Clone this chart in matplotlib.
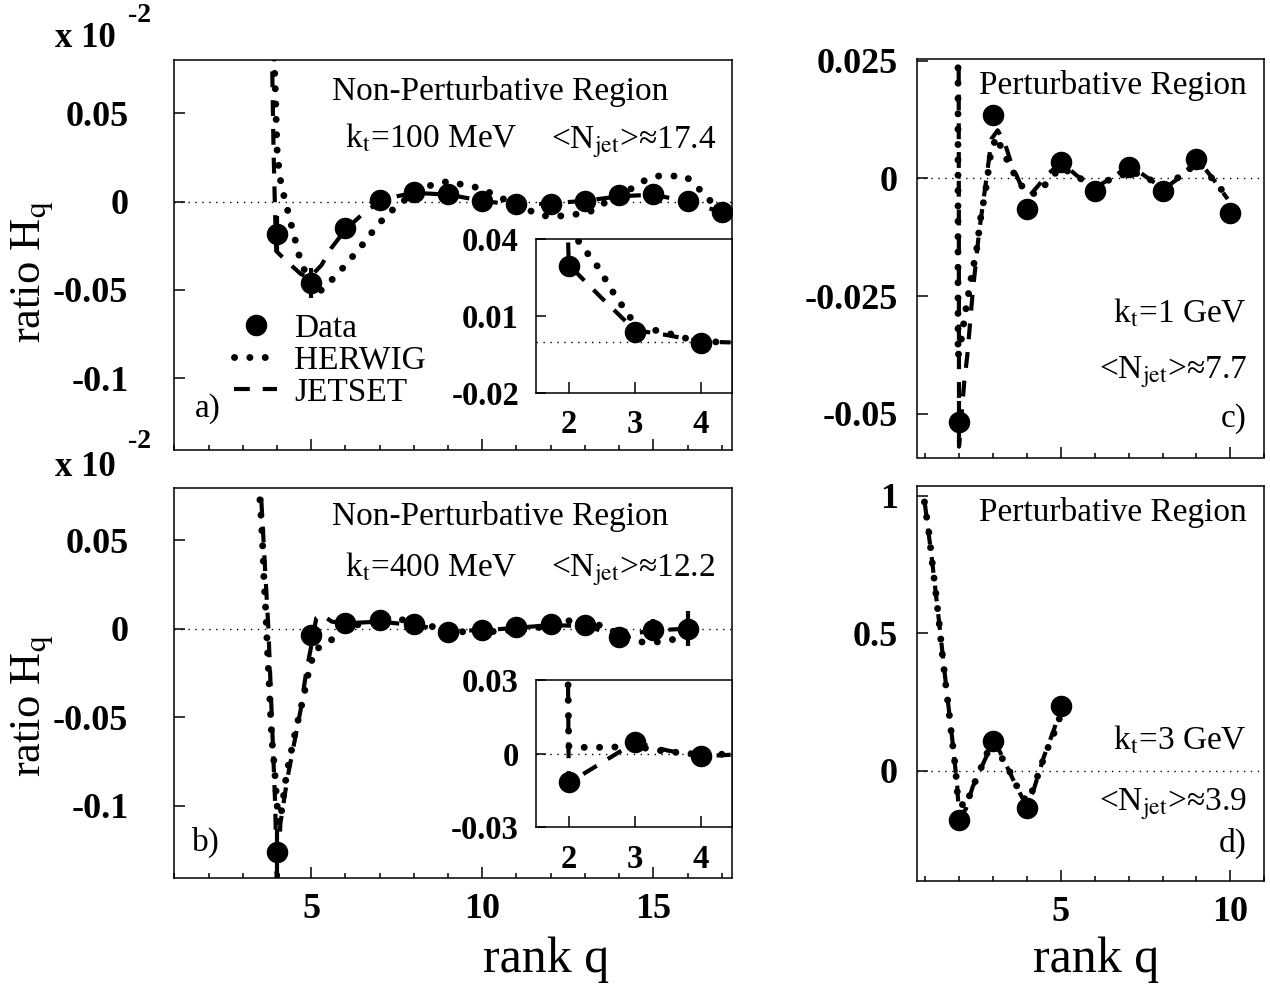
import matplotlib
matplotlib.use('Agg')
import matplotlib.pyplot as plt
from matplotlib.lines import Line2D
import numpy as np

plt.rcParams['font.family'] = ['Liberation Serif', 'DejaVu Serif']
plt.rcParams['mathtext.fontset'] = 'stix'

# ---------------- panel a) kt = 100 MeV (values in units of 10^-2)
q_a = [4, 5, 6, 7, 8, 9, 10, 11, 12, 13, 14, 15, 16, 17]
data_a = [-0.0184, -0.0463, -0.0147, 0.0008, 0.0055, 0.0041, 0.0004,
          -0.0015, -0.0011, 0.0004, 0.0036, 0.0041, 0.0004, -0.0058]
err_a = [0.010, 0.0085, 0.004, 0.002, 0.002, 0.002, 0.002,
         0.002, 0.002, 0.002, 0.002, 0.002, 0.003, 0.0056]
herwig_q_a = [3.90, 3.96, 3.98, 4.01, 4.12, 4.23, 4.33, 4.44, 4.54, 4.65,
              4.79, 5.02, 5.23, 5.53, 5.82, 6.10, 6.40, 6.66, 6.93, 7.23,
              7.55, 8.20, 8.63, 9.05, 9.48, 9.90, 10.27, 10.64, 11.07, 11.49,
              11.86, 12.34, 12.76, 13.19, 13.56, 13.93, 14.35, 14.72, 15.10,
              15.52, 15.94, 16.26, 16.53, 17.00]
herwig_a = [0.090, 0.0596, 0.0436, 0.0267, 0.0098, 0.0013, -0.0062, -0.0147,
            -0.0222, -0.0306, -0.0382, -0.0476, -0.0513, -0.0457, -0.0400,
            -0.0335, -0.0269, -0.0203, -0.0137, -0.0071, -0.0019, 0.0079,
            0.0098, 0.0117, 0.0092, 0.0079, 0.0047, 0.0013, -0.0006, -0.0062,
            -0.0081, -0.0081, -0.0071, -0.0053, -0.0009, 0.0041, 0.0073,
            0.0117, 0.0145, 0.0145, 0.0145, 0.0088, 0.0032, -0.0062]
jetset_q_a = [3.85, 3.90, 3.95, 3.98, 4.30, 4.70, 4.95, 5.30, 5.60, 6.00,
              6.50, 7.00, 7.50, 8.00, 9.00, 10.0, 11.0, 12.0, 13.0, 14.0,
              15.0, 16.0, 17.0]
jetset_a = [0.090, 0.030, -0.010, -0.028, -0.034, -0.041, -0.043, -0.036,
            -0.026, -0.016, -0.007, 0.000, 0.003, 0.005, 0.004, 0.0005,
            -0.002, -0.001, 0.0005, 0.003, 0.004, 0.000, -0.006]

# inset of a) (true units)
q_ia = [2, 3, 4]
data_ia = [0.0296, 0.0036, -0.0005]
herwig_q_ia = [1.98, 2.05, 2.19, 2.33, 2.47, 2.58, 2.69, 2.81, 2.94, 3.03,
               3.15, 3.32, 3.54, 3.76, 4.00, 4.20, 4.45]
herwig_ia = [0.050, 0.042, 0.038, 0.0328, 0.0283, 0.0231, 0.0185, 0.014,
             0.0091, 0.0060, 0.0047, 0.0044, 0.0030, 0.0014, 0.0, -0.0001,
             -0.0002]
jetset_q_ia = [1.98, 2.00, 2.50, 3.00, 3.50, 4.00, 4.45]
jetset_ia = [0.050, 0.030, 0.017, 0.0045, 0.0025, 0.0, -0.0003]

# ---------------- panel b) kt = 400 MeV (values in units of 10^-2)
q_b = [4, 5, 6, 7, 8, 9, 10, 11, 12, 13, 14, 15, 16]
data_b = [-0.126, -0.0038, 0.0034, 0.0047, 0.0028, -0.0019, -0.0006,
          0.0009, 0.0028, 0.0019, -0.0047, -0.0006, 0.0]
err_b = [0.013, 0.004, 0.002, 0.002, 0.002, 0.002, 0.002,
         0.002, 0.002, 0.002, 0.003, 0.006, 0.010]
herwig_q_b = [3.45, 3.48, 3.54, 3.59, 3.62, 3.67, 3.73, 3.77, 3.81, 3.85,
              3.93, 3.99, 4.05, 4.12, 4.28, 4.54, 4.76, 4.92, 5.10, 5.45,
              5.76, 6.00, 6.50, 7.00, 7.40, 8.00, 8.60, 9.50, 10.5, 11.5,
              12.6, 13.45, 14.0, 14.67, 15.1, 15.5, 15.84]
herwig_b = [0.090, 0.079, 0.062, 0.044, 0.028, 0.011, -0.015, -0.030,
            -0.047, -0.062, -0.079, -0.096, -0.110, -0.105, -0.082, -0.058,
            -0.040, -0.025, -0.012, -0.0085, -0.0038, 0.0, 0.003, 0.0045,
            0.0066, 0.003, 0.001, -0.002, -0.0015, 0.0, 0.0047, 0.0019,
            -0.003, -0.0075, -0.0075, -0.0066, -0.004]
jetset_q_b = [3.50, 3.55, 3.75, 3.95, 4.00, 4.10, 4.30, 4.50, 4.70, 4.85,
              5.00, 5.15, 5.30, 5.60, 6.00, 7.00, 8.00, 9.00, 10.0, 11.0,
              12.0, 13.0, 14.0, 15.0, 16.0]
jetset_b = [0.090, 0.070, 0.000, -0.100, -0.150, -0.110, -0.085, -0.065,
            -0.045, -0.025, -0.010, 0.006, 0.008, 0.004, 0.003, 0.004,
            0.002, -0.001, -0.001, 0.0005, 0.002, 0.0015, -0.004, -0.001,
            0.0]

# inset of b) (true units)
q_ib = [2, 3, 4]
data_ib = [-0.0118, 0.0045, -0.0012]
herwig_q_ib = [1.99, 2.00, 2.19, 2.50, 2.80, 3.00, 3.30, 3.50, 3.80, 4.00,
               4.20, 4.45]
herwig_ib = [0.028, 0.003, 0.0025, 0.0025, 0.0027, 0.003, 0.0015, 0.0008,
             0.0, -0.0003, -0.0003, -0.0003]
jetset_q_ib = [1.99, 2.00, 3.00, 3.50, 4.00, 4.45]
jetset_ib = [0.028, -0.012, 0.0045, 0.0012, -0.0012, -0.0005]

# ---------------- panel c) kt = 1 GeV
q_c = [2, 3, 4, 5, 6, 7, 8, 9, 10]
data_c = [-0.0518, 0.0134, -0.0066, 0.0034, -0.0026, 0.0023, -0.0028,
          0.0041, -0.0073]
err_c = [0.0045, 0.001, 0.001, 0.0008, 0.0008, 0.0008, 0.0008, 0.001, 0.001]
herwig_q_c = [1.97, 1.97, 2.05, 2.20, 2.35, 2.52, 2.64, 2.79, 2.92, 3.09,
              3.29, 3.49, 3.71, 3.98, 4.28, 4.50, 4.77, 5.02, 5.51, 6.01,
              6.36, 6.70, 7.05, 7.50, 7.99, 8.58, 9.03, 9.33, 9.57, 9.92]
herwig_c = [0.030, -0.0379, -0.0350, -0.0279, -0.0215, -0.0151, -0.0083,
            -0.0023, 0.0045, 0.0088, 0.0059, 0.0027, -0.0001, -0.0030,
            -0.0033, -0.0017, 0.0006, 0.0023, 0.0002, -0.0016, -0.0005,
            0.0002, 0.0016, 0.0002, -0.0016, 0.0006, 0.0034, 0.0013,
            -0.0012, -0.0037]
jetset_q_c = [1.99, 2.00, 2.15, 2.25, 2.40, 2.59, 2.82, 2.96, 3.14, 3.34,
              3.53, 3.83, 4.08, 4.33, 4.62, 5.02, 5.42, 5.96, 6.60, 7.05,
              7.50, 8.04, 8.58, 9.03, 9.57, 9.92]
jetset_c = [0.030, -0.057, -0.0436, -0.0372, -0.0244, -0.0115, 0.0006,
            0.0084, 0.0102, 0.0077, 0.0034, -0.0016, -0.0037, -0.0016,
            0.0009, 0.0034, 0.0009, -0.0023, 0.0006, 0.0027, 0.0004,
            -0.0023, 0.0006, 0.0041, -0.0009, -0.0044]

# ---------------- panel d) kt = 3 GeV
q_d = [2, 3, 4, 5]
data_d = [-0.180, 0.108, -0.137, 0.237]
err_d = [0.01, 0.01, 0.01, 0.01]
herwig_q_d = [0.98, 1.11, 1.21, 1.31, 1.41, 1.50, 1.60, 1.70, 1.80, 1.90,
              1.97, 2.05, 2.20, 2.35, 2.52, 2.69, 2.85, 3.00, 3.09, 3.29,
              3.49, 3.71, 3.90, 4.05, 4.23, 4.52, 4.87, 5.02]
herwig_d = [0.978, 0.868, 0.757, 0.653, 0.543, 0.433, 0.322, 0.218, 0.108,
            0.004, -0.113, -0.120, -0.131, -0.076, -0.027, 0.022, 0.070,
            0.100, 0.096, 0.040, -0.002, -0.058, -0.100, -0.110, -0.051,
            0.053, 0.157, 0.212]
jetset_q_d = [0.98, 1.20, 1.40, 1.60, 1.80, 1.95, 2.00, 2.20, 2.40, 2.60,
              2.80, 3.00, 3.20, 3.45, 3.70, 4.00, 4.20, 4.50, 4.80, 5.00]
jetset_d = [0.985, 0.770, 0.555, 0.330, 0.115, -0.060, -0.170, -0.140,
            -0.060, -0.005, 0.050, 0.105, 0.070, 0.005, -0.060, -0.130,
            -0.070, 0.050, 0.150, 0.225]

W, H = 1270, 993


def box(l, t, r, b):
    return [l / W, 1 - b / H, (r - l) / W, (b - t) / H]


def fx(x):
    return x / W


def fy(y):
    return 1 - y / H


herwig_style = dict(color='k', lw=5, ls=(0, (0.01, 2.2)),
                    dash_capstyle='round', solid_capstyle='round')
jetset_style = dict(color='k', lw=3, ls=(0, (3.8, 3.1)), dash_capstyle='butt')
ms_data = 14.5
data_style = dict(fmt='o', color='k', ms=ms_data, elinewidth=3, capsize=0,
                  zorder=5)
tick_font = dict(fontsize=26, fontweight='bold')
inset_font = dict(fontsize=23.5, fontweight='bold')
txt = 24

fig = plt.figure(figsize=(12.7, 9.93), dpi=100)


def setup_main(ax, xlim, ylim, yticks, ylabels, xmajor, ypad, show_x):
    ax.set_xlim(*xlim)
    ax.set_ylim(*ylim)
    ax.set_yticks(yticks)
    ax.set_yticklabels(ylabels, **tick_font)
    ax.set_xticks(xmajor)
    ax.set_xticks(np.arange(1, int(xlim[1]) + 1), minor=True)
    if show_x:
        ax.set_xticklabels([str(v) for v in xmajor], **tick_font)
    else:
        ax.set_xticklabels([])
    ax.tick_params(axis='y', direction='in', length=8, width=1.1, pad=ypad)
    ax.tick_params(axis='x', which='major', direction='in', length=8,
                   width=1.1, pad=11)
    ax.tick_params(axis='x', which='minor', direction='in', length=3.8,
                   width=1.1)
    ax.tick_params(axis='y', which='minor', left=False)
    for s in ax.spines.values():
        s.set_linewidth(1.1)
    ax.axhline(0, color='k', lw=1.0, ls=(0, (1, 4)), zorder=1)


def setup_inset(ax, ylim, yticks, ylabels):
    ax.set_xlim(1.5, 4.47)
    ax.set_ylim(*ylim)
    ax.set_yticks(yticks)
    ax.set_yticklabels(ylabels, **inset_font)
    ax.set_xticks([2, 3, 4])
    ax.set_xticklabels(['2', '3', '4'], **inset_font)
    ax.tick_params(axis='y', direction='in', length=7, width=1.1, pad=12)
    ax.tick_params(axis='x', direction='in', length=8, width=1.1, pad=12)
    for s in ax.spines.values():
        s.set_linewidth(1.1)
    ax.axhline(0, color='k', lw=1.0, ls=(0, (1, 4)), zorder=1)


# ---- panel a
ax_a = fig.add_axes(box(174.3, 60, 732, 450))
setup_main(ax_a, (1, 17.3), (-0.1406, 0.0802), [-0.1, -0.05, 0, 0.05],
           ['-0.1', '-0.05', '0', '0.05'], [5, 10, 15], 33, False)
ax_a.plot(herwig_q_a, herwig_a, **herwig_style)
ax_a.plot(jetset_q_a, jetset_a, **jetset_style)
ax_a.errorbar(q_a, data_a, yerr=err_a, **data_style)
handles = [Line2D([], [], marker='o', ls='none', color='k', ms=ms_data),
           Line2D([], [], **herwig_style),
           Line2D([], [], **jetset_style)]
ax_a.legend(handles, ['Data', 'HERWIG', 'JETSET'], loc='center left',
            bbox_to_anchor=((234 - 174.3) / 557.7, (450 - 360.6) / 390),
            frameon=False, fontsize=txt, handlelength=1.3,
            handletextpad=0.5, labelspacing=0.05, borderpad=0,
            borderaxespad=0)

ins_a = fig.add_axes(box(535.7, 239.3, 732, 392.8))
setup_inset(ins_a, (-0.02, 0.04), [-0.02, 0.01, 0.04],
            ['-0.02', '0.01', '0.04'])
ins_a.plot(herwig_q_ia, herwig_ia, **herwig_style)
ins_a.plot(jetset_q_ia, jetset_ia, **jetset_style)
ins_a.plot(q_ia, data_ia, 'o', color='k', ms=ms_data, zorder=5)

# ---- panel b
ax_b = fig.add_axes(box(174.3, 488.3, 732, 877.7))
setup_main(ax_b, (1, 17.3), (-0.1405, 0.0792), [-0.1, -0.05, 0, 0.05],
           ['-0.1', '-0.05', '0', '0.05'], [5, 10, 15], 33, True)
ax_b.plot(herwig_q_b, herwig_b, **herwig_style)
ax_b.plot(jetset_q_b, jetset_b, **jetset_style)
ax_b.errorbar(q_b, data_b, yerr=err_b, **data_style)

ins_b = fig.add_axes(box(535.7, 680, 732, 827))
setup_inset(ins_b, (-0.03, 0.03), [-0.03, 0, 0.03], ['-0.03', '0', '0.03'])
ins_b.plot(herwig_q_ib, herwig_ib, **herwig_style)
ins_b.plot(jetset_q_ib, jetset_ib, **jetset_style)
ins_b.plot(q_ib, data_ib, 'o', color='k', ms=ms_data, zorder=5)

# ---- panel c
ax_c = fig.add_axes(box(917.3, 59.2, 1264.3, 457.5))
setup_main(ax_c, (0.77, 11), (-0.0593, 0.0253), [-0.05, -0.025, 0, 0.025],
           ['-0.05', '-0.025', '0', '0.025'], [5, 10], 14, False)
ax_c.plot(herwig_q_c, herwig_c, **herwig_style)
ax_c.plot(jetset_q_c, jetset_c, **jetset_style)
ax_c.errorbar(q_c, data_c, yerr=err_c, **data_style)

# ---- panel d
ax_d = fig.add_axes(box(917.3, 486, 1264.3, 880.8))
setup_main(ax_d, (0.77, 11), (-0.401, 1.036), [0, 0.5, 1],
           ['0', '0.5', '1'], [5, 10], 14, True)
ax_d.plot(herwig_q_d, herwig_d, **herwig_style)
ax_d.plot(jetset_q_d, jetset_d, **jetset_style)
ax_d.errorbar(q_d, data_d, yerr=err_d, **data_style)

# ---- texts
fig.text(fx(500), fy(99.8), 'Non-Perturbative Region', fontsize=txt,
         ha='center', va='baseline')
fig.text(fx(345), fy(148), r'k$_\mathrm{t}$=100 MeV', fontsize=txt,
         va='baseline')
fig.text(fx(551), fy(148), r'<N$_\mathrm{jet}$>≈17.4', fontsize=txt,
         va='baseline')
fig.text(fx(195), fy(417), 'a)', fontsize=txt, va='baseline')

fig.text(fx(500), fy(524.8), 'Non-Perturbative Region', fontsize=txt,
         ha='center', va='baseline')
fig.text(fx(345), fy(576.3), r'k$_\mathrm{t}$=400 MeV', fontsize=txt,
         va='baseline')
fig.text(fx(551), fy(576.3), r'<N$_\mathrm{jet}$>≈12.2', fontsize=txt,
         va='baseline')
fig.text(fx(192), fy(850.4), 'b)', fontsize=txt, va='baseline')

fig.text(fx(1247), fy(93.9), 'Perturbative Region', fontsize=txt,
         ha='right', va='baseline')
fig.text(fx(1247), fy(322.8), r'k$_\mathrm{t}$=1 GeV', fontsize=txt,
         ha='right', va='baseline')
fig.text(fx(1247), fy(378.4), r'<N$_\mathrm{jet}$>≈7.7', fontsize=txt,
         ha='right', va='baseline')
fig.text(fx(1247), fy(427), 'c)', fontsize=txt, ha='right', va='baseline')

fig.text(fx(1247), fy(520.5), 'Perturbative Region', fontsize=txt,
         ha='right', va='baseline')
fig.text(fx(1247), fy(749.5), r'k$_\mathrm{t}$=3 GeV', fontsize=txt,
         ha='right', va='baseline')
fig.text(fx(1247), fy(810), r'<N$_\mathrm{jet}$>≈3.9', fontsize=txt,
         ha='right', va='baseline')
fig.text(fx(1247), fy(852), 'd)', fontsize=txt, ha='right', va='baseline')

# axis titles and exponent labels
for yc in (272, 706):
    fig.text(fx(33), fy(yc), r'ratio H$_\mathrm{q}$', fontsize=32,
             rotation=90, ha='center', va='center')
for x_center in (546, 1096):
    fig.text(fx(x_center), fy(960), 'rank q', fontsize=36, ha='center',
             va='center')
for y10, y2 in ((38.5, 15), (467, 442)):
    fig.text(fx(85), fy(y10), 'x 10', fontsize=25, fontweight='bold',
             ha='center', va='center')
    fig.text(fx(140), fy(y2), '-2', fontsize=20, fontweight='bold',
             ha='center', va='center')

fig.savefig('out.png', dpi=100)
